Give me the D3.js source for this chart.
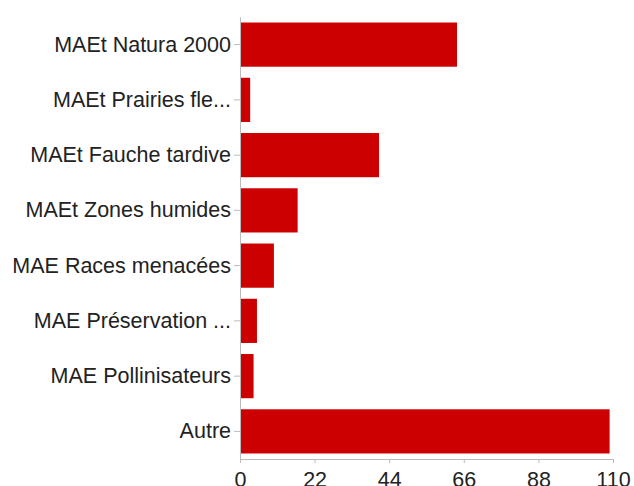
<!DOCTYPE html>
<html>
<head>
<meta charset="utf-8">
<script src="https://cdn.jsdelivr.net/npm/d3@7"></script>
<style>
  body { margin: 0; background: #fff; }
  text { font-family: "Liberation Sans", Arial, sans-serif; }
</style>
</head>
<body>
<svg width="634" height="486"></svg>
<script>
let categories = ['MAEt Natura 2000', 'MAEt Prairies fle...', 'MAEt Fauche tardive', 'MAEt Zones humides',
  'MAE Races menacées', 'MAE Préservation ...', 'MAE Pollinisateurs', 'Autre']
let values = [64, 3, 41, 17, 10, 5, 4, 109]
let xTicks = [0, 22, 44, 66, 88, 110]

let margin = {left: 240, right: 21, top: 17, bottom: 27}
let width = 634, height = 486

let svg = d3.select('svg')

let x = d3.scaleLinear()
  .domain([0, 110])
  .range([margin.left, width - margin.right])

let y = d3.scaleBand()
  .domain(categories)
  .range([margin.top, height - margin.bottom])
  .paddingInner(0.2)
  .paddingOuter(0.1)

svg.append('g')
  .selectAll('rect')
  .data(values)
  .enter().append('rect')
  .attr('x', x(0))
  .attr('y', (d, i) => y(categories[i]))
  .attr('width', d => x(d) - x(0))
  .attr('height', y.bandwidth())
  .attr('fill', '#cc0000')

// left axis
let yAxis = svg.append('g')
  .attr('transform', 'translate(' + x(0) + ',0)')
  .call(d3.axisLeft(y).tickSize(6).tickSizeOuter(0).tickPadding(3))
yAxis.select('.domain').attr('stroke', '#bbb')
yAxis.selectAll('.tick line').attr('stroke', '#bbb')
yAxis.selectAll('.tick text')
  .attr('fill', '#222')
  .style('font-size', '21.5px')

// bottom axis
let xAxis = svg.append('g')
  .attr('transform', 'translate(0,' + (height - margin.bottom) + ')')
  .call(d3.axisBottom(x).tickValues(xTicks).tickSize(4).tickSizeOuter(0).tickPadding(9))
xAxis.select('.domain').attr('stroke', '#bbb')
xAxis.selectAll('.tick line').attr('stroke', '#bbb')
xAxis.selectAll('.tick text')
  .attr('fill', '#222')
  .style('font-size', '21.5px')
</script>
</body>
</html>
